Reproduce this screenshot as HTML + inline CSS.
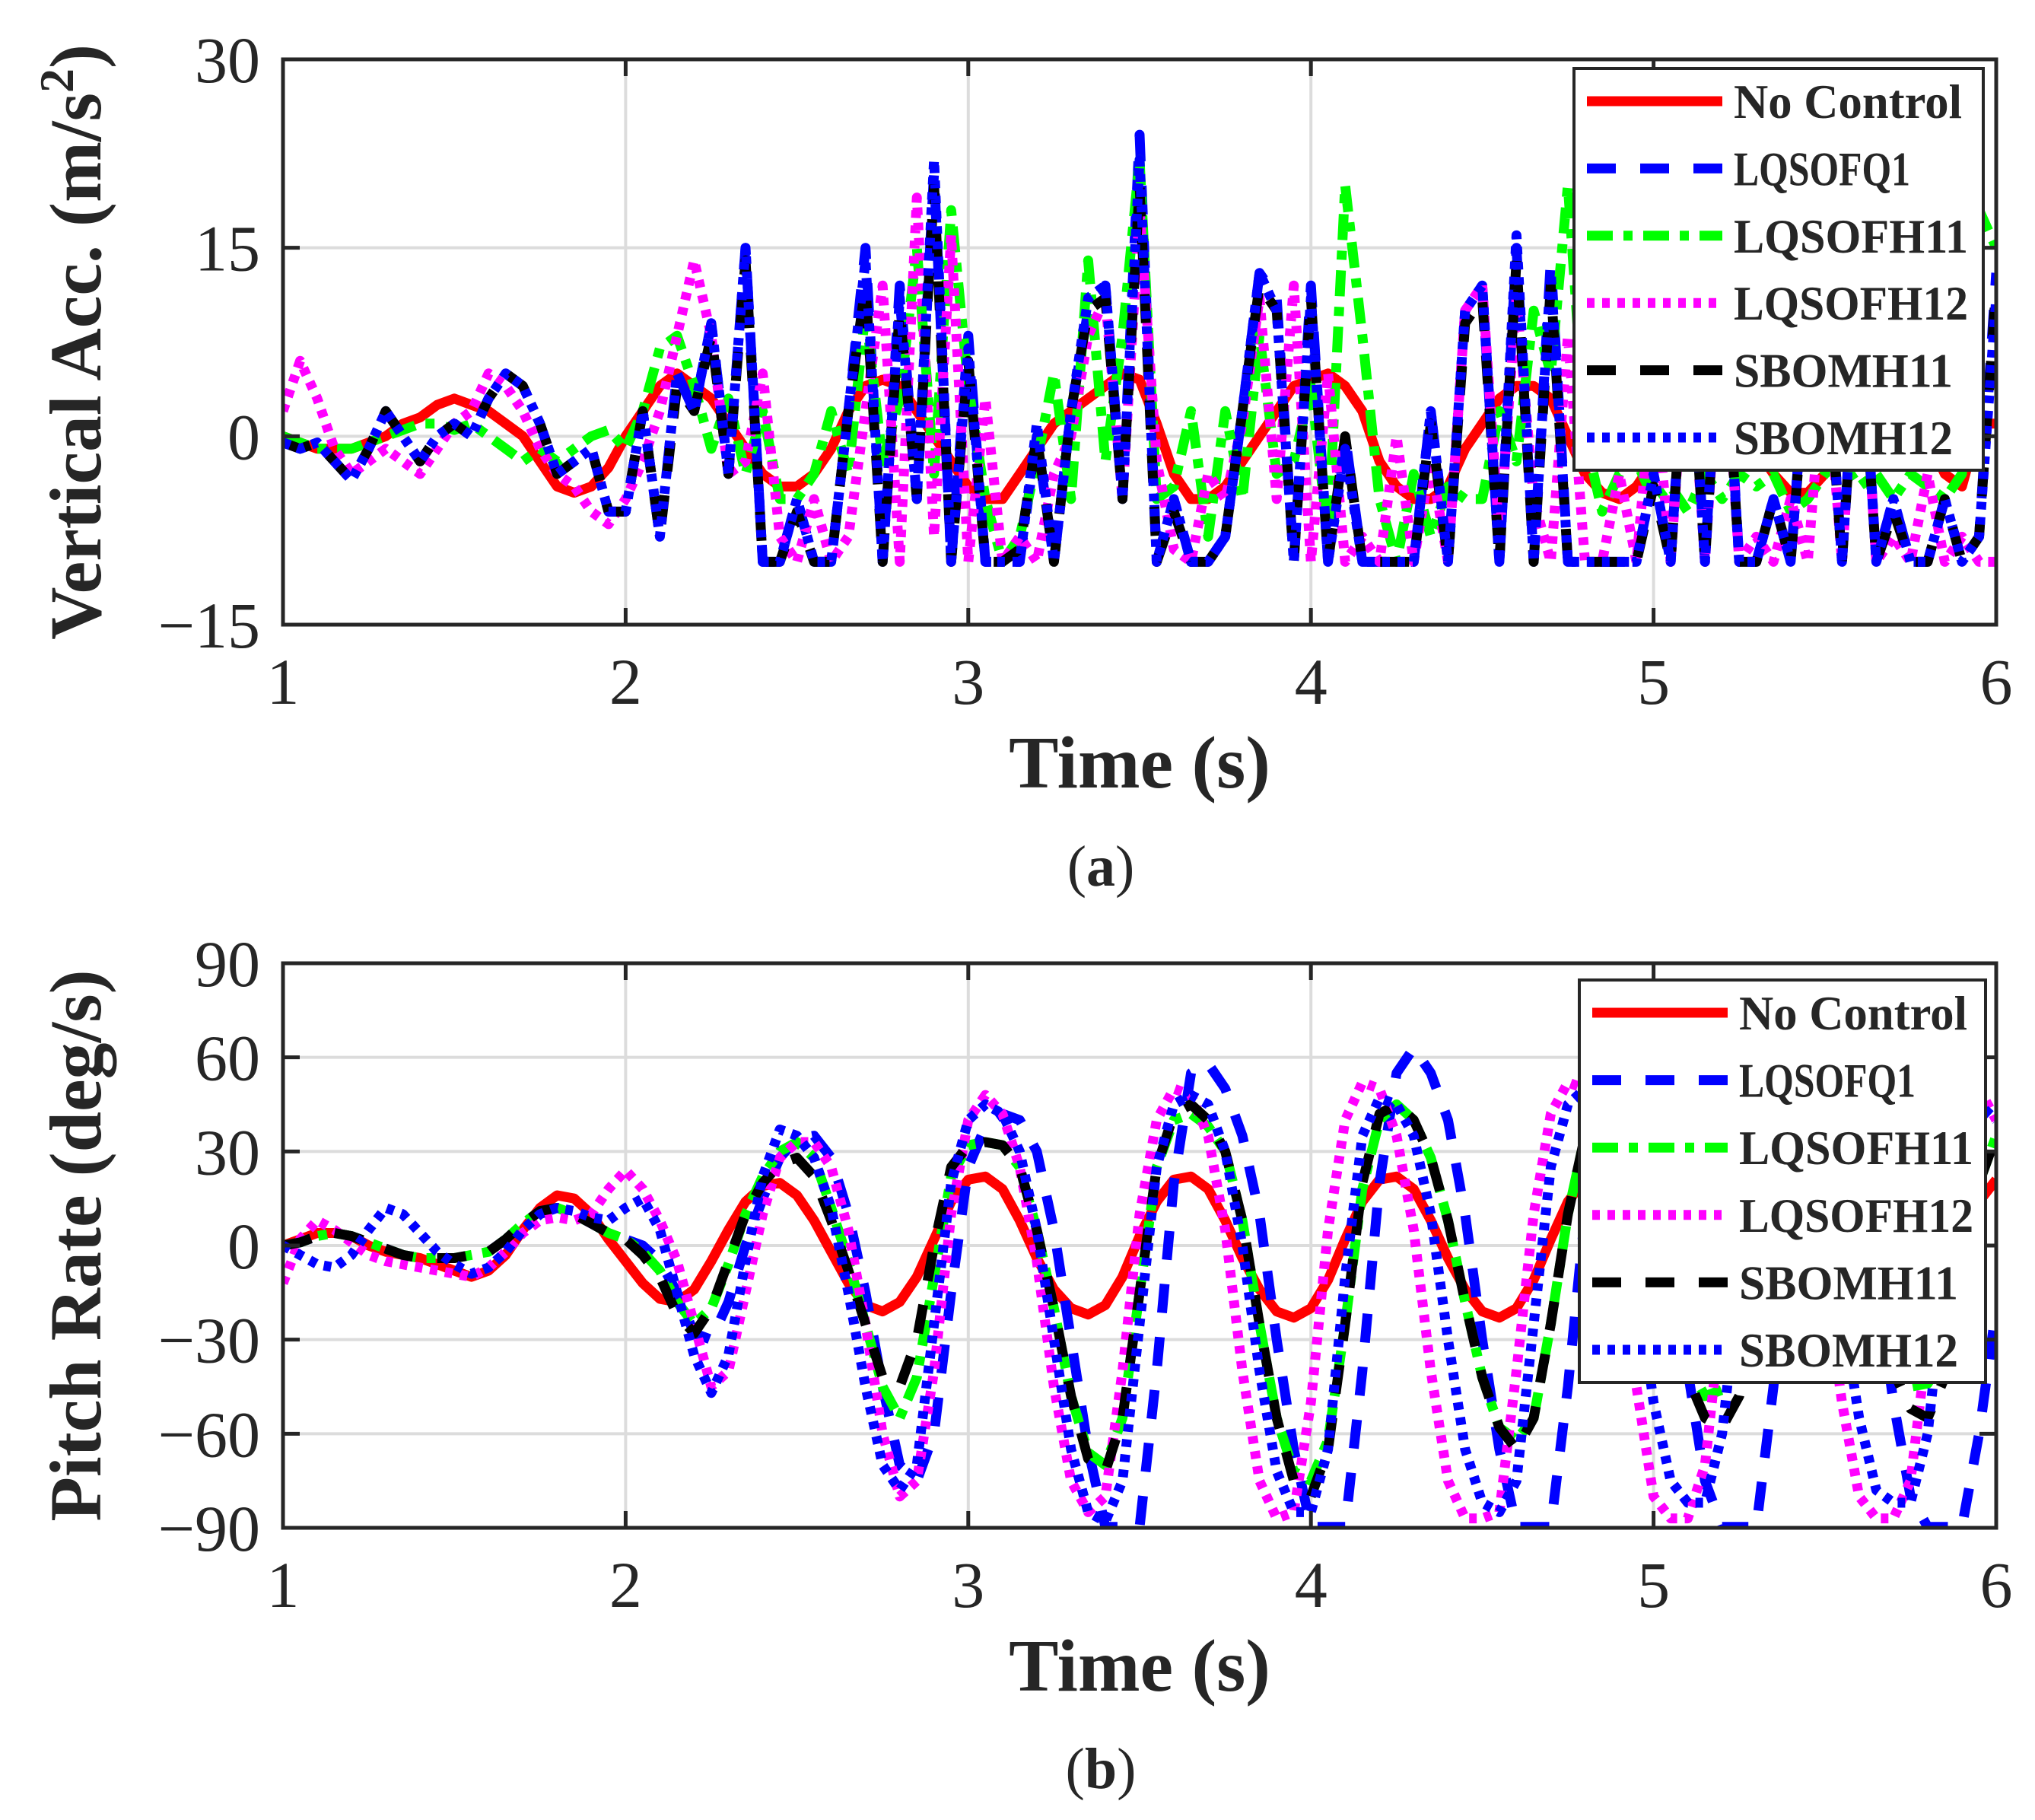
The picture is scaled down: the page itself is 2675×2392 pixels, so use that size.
<!DOCTYPE html>
<html><head><meta charset="utf-8"><style>
html,body{margin:0;padding:0;background:#fff;}
svg{display:block;}
text{font-family:"Liberation Serif",serif;fill:#262626;}
</style></head><body>
<svg id="fig" width="2675" height="2392" viewBox="0 0 2675 2392" xmlns="http://www.w3.org/2000/svg"></svg>
<script>
// ---- shared data ----
const tStart = 1, tStep = 0.05;
const xTicks = [1,2,3,4,5,6];
const seriesNames = ["No Control","LQSOFQ1","LQSOFH11","LQSOFH12","SBOMH11","SBOMH12"];
// ---- panel (a) vertical acceleration ----
const accTicks = [30,15,0,-15];
const accNoControl = [0,-0.5,-1,-1,-1,-0.5,0,1,1.5,2.5,3,2.5,2,1,0,-2,-4,-4.5,-4,-2.5,0,2,4,5,4,3,1,-1,-3,-4,-4,-3,-1,2,4,4.5,4,2,0,-2,-4,-5,-5,-3,-1,1,2,3,4,5,4.5,1,-3,-5,-5,-4,-2,0,2,4,4.5,5,4,2,-2,-4,-5,-5,-4,-1,1,3,4,4,3,0,-3,-4.5,-5,-4,-2,1,3,4,4,2,-1,-3,-4.5,-4.5,-3,0,2,4,4.5,3,0,-3,-4,1,1];
const accLQSOFQ1 = [-0.5,-1,-0.5,-2,-3.5,-1,2,0,-2,0,1,0,3,5,4,1,-3,-2,-1,-6,-6,2,-8,5,2,9,-3,15,-10,-10,-5,-10,-10,2,15,-10,12,-5,21,-10,8,-10,-10,-10,0,-10,2,10,12,-5,24,-10,-5,-10,-10,-8,2,13,11,-10,12,-10,0,-10,-10,-10,-10,2,-10,10,12,-10,15,-10,14,-10,-10,-10,-10,-10,-3,-10,12,-10,14,-10,-10,-5,-10,8,10,-10,12,-10,-5,-10,-10,-5,-10,-8,13];
const accLQSOFH11 = [0,-0.5,-1,-1,-1,-0.5,0,0.5,1,1,0.5,1,0,-1,-2,-1,-2,-1,0,0.5,-1,2,7,8,4,-1,3,-3,2,-5,-5,-3,2,-3,10,-2,3,15,-3,18,4,-5,-10,-8,-2,5,-5,14,-2,8,22,-5,-4,2,-8,2,-5,8,-3,-2,4,-8,20,8,-5,-10,-3,-8,-4,-5,-5,2,-2,10,5,20,0,-6,-3,-2,-5,-4,-6,-3,-5,-3,-4,-3,-6,-5,-3,-2,-4,-3,-5,-3,-4,-5,-3,18,15];
const accLQSOFH12 = [2,6,3,-1,-3,-2,-1,-2,-3,-1,1,2,5,4,2,-1,-3,-4,-6,-7,-5,-2,2,8,14,8,-3,-2,5,-8,-10,-5,-10,-8,2,12,-10,19,-8,16,-10,3,-10,-8,-10,-3,0,8,11,-5,18,-2,-9,-10,-3,-5,1,11,-5,12,-10,5,-10,-8,-10,0,-10,-2,-10,10,12,-8,11,-5,-10,8,-10,-10,-3,-10,5,-10,10,-10,11,-10,-8,-10,-5,-10,7,-10,11,-10,-8,-10,-3,-10,-8,-10,-10];
const accSBOMH11 = [-0.5,-1,-0.5,-2,-3.5,-1,2,0,-2,0,1,0,3,5,4,1,-3,-2,-1,-6,-6,2,-8,4,2,8,-3,14,-10,-10,-6,-10,-10,2,12,-10,10,-5,20,-10,6,-10,-10,-9,0,-10,2,10,11,-5,20,-10,-6,-10,-10,-8,2,12,10,-10,11,-10,0,-10,-10,-10,-10,1,-10,9,11,-10,14,-10,12,-10,-10,-10,-10,-10,-4,-10,11,-10,12,-10,-10,-5,-10,7,9,-10,11,-10,-6,-10,-10,-5,-10,-8,12];
const accSBOMH12 = [-0.5,-1,-0.5,-2,-3.5,-1,2,0,-2,0,1,0,3,5,4,1,-3,-2,-1,-6,-6,2,-8,5,2,9,-3,15,-10,-10,-5,-10,-10,2,14,-10,11,-5,22,-10,7,-10,-10,-10,1,-10,2,11,12,-5,22,-10,-5,-10,-10,-8,2,13,10,-10,11,-10,-1,-10,-10,-10,-10,2,-10,10,12,-10,16,-10,13,-10,-10,-10,-10,-10,-3,-10,12,-10,13,-10,-10,-5,-10,8,10,-10,12,-10,-5,-10,-10,-5,-10,-8,11];
// ---- panel (b) pitch rate ----
const pitchTicks = [90,60,30,0,-30,-60,-90];
const pitchNoControl = [0,2,4,4,3,0,-2,-3,-4,-6,-8,-10,-8,-3,5,12,16,15,10,2,-5,-12,-17,-18,-14,-5,5,14,19,20,16,8,-2,-12,-19,-21,-18,-10,2,14,21,22,18,8,-4,-14,-20,-22,-19,-10,3,14,21,22,18,8,-4,-14,-21,-23,-20,-11,2,14,21,22,18,8,-4,-14,-21,-23,-20,-11,2,14,21,22,18,8,-4,-14,-21,-23,-20,-11,2,14,21,22,18,8,-4,-14,-21,-23,-20,-11,2,14,21];
const pitchLQSOFQ1 = [0,1,3,4,3,1,-1,-3,-4,-4,-4,-3,-2,2,7,11,12,10,7,4,2,0,-5,-15,-28,-30,-18,0,15,28,34,35,28,10,-15,-45,-70,-75,-60,-15,25,38,42,40,30,5,-30,-65,-90,-95,-90,-40,20,55,58,50,35,10,-30,-65,-90,-95,-90,-40,20,55,63,55,40,10,-30,-65,-90,-95,-90,-45,10,45,55,48,30,0,-40,-75,-90,-95,-90,-45,10,45,55,45,25,-10,-50,-80,-90,-95,-95,-60,-20];
const pitchLQSOFH11 = [0,1,3,4,3,1,-1,-3,-4,-4,-4,-3,-2,2,7,11,12,10,7,4,2,-2,-8,-18,-25,-20,-6,10,22,30,33,28,12,-5,-25,-45,-55,-42,-10,22,32,33,32,25,5,-20,-48,-66,-70,-55,-15,25,40,42,38,30,8,-25,-55,-72,-75,-62,-25,18,40,45,40,28,8,-18,-42,-58,-62,-55,-25,10,35,43,40,28,8,-18,-38,-48,-46,-38,-12,20,38,42,35,22,3,-20,-38,-45,-44,-35,-10,20,35];
const pitchLQSOFH12 = [-12,2,8,5,1,-3,-5,-6,-7,-8,-9,-10,-7,-2,4,8,9,8,10,18,24,18,8,-5,-25,-45,-40,-15,10,28,33,33,25,5,-25,-60,-80,-75,-40,10,40,48,42,25,-5,-45,-75,-85,-80,-40,10,40,50,48,35,5,-40,-75,-87,-85,-50,5,40,52,50,35,5,-40,-75,-87,-87,-85,-40,10,42,52,50,35,0,-45,-80,-87,-87,-70,-20,25,48,52,45,25,-10,-50,-80,-87,-87,-75,-30,20,45,50,40];
const pitchSBOMH11 = [0,1,3,4,3,1,-1,-3,-4,-4,-4,-3,-2,2,7,11,12,10,7,4,2,-3,-10,-22,-28,-20,-5,10,20,26,28,22,8,-8,-25,-42,-45,-30,0,25,32,33,32,25,5,-20,-48,-68,-72,-55,-15,25,42,45,40,30,8,-25,-55,-75,-80,-65,-25,20,42,45,40,28,8,-18,-42,-58,-65,-55,-25,10,35,43,40,28,8,-18,-42,-55,-58,-48,-15,20,38,42,35,22,3,-20,-40,-52,-55,-42,-10,20,35];
const pitchSBOMH12 = [0,-3,-6,-7,-3,5,12,10,4,-2,-6,-9,-7,-2,5,10,12,11,9,8,12,15,5,-15,-35,-47,-35,-5,22,37,35,28,12,-15,-45,-70,-78,-70,-25,20,40,45,42,30,5,-30,-65,-85,-88,-75,-25,25,45,48,45,30,0,-40,-72,-85,-85,-65,-10,35,47,45,35,10,-30,-65,-82,-85,-75,-25,25,45,50,45,25,-10,-50,-75,-82,-82,-60,-10,30,45,48,40,20,-20,-55,-78,-82,-82,-60,-10,30,45,40];

const legendTextWidths = {"No Control":300,"LQSOFQ1":232,"LQSOFH11":308,"LQSOFH12":308,"SBOMH11":288,"SBOMH12":288};

const svg = document.getElementById('fig');
const NS = 'http://www.w3.org/2000/svg';
function mk(tag, attrs, parent){ const e=document.createElementNS(NS,tag); for(const k in attrs) e.setAttribute(k,attrs[k]); (parent||svg).appendChild(e); return e; }

const styles = [
  {color:'#ff0000', dash:'', w:13},
  {color:'#0000ff', dash:'38 32', w:13},
  {color:'#00ff00', dash:'34 14 12 14', w:13},
  {color:'#ff00ff', dash:'10 10', w:13},
  {color:'#000000', dash:'38 32', w:13},
  {color:'#0000ff', dash:'10 10', w:13}
];

function panel(cfg){
  const L=372, R=2624, T=cfg.top, B=cfg.bottom;
  const xs = v => L + (v-1)/(6-1)*(R-L);
  const ys = v => B - (v-cfg.ymin)/(cfg.ymax-cfg.ymin)*(B-T);
  const g = mk('g',{});  
  const clipId = cfg.name+'-clip';
  const defs = mk('defs',{},g); const cp = mk('clipPath',{id:clipId},defs); mk('rect',{x:L,y:T,width:R-L,height:B-T},cp);
  xTicks.forEach(v=>{ const l=mk('line',{x1:xs(v),x2:xs(v),y1:T,y2:B,stroke:'#dcdcdc','stroke-width':4},g);
      });
  cfg.ticks.forEach(v=>{ const l=mk('line',{x1:L,x2:R,y1:ys(v),y2:ys(v),stroke:'#dcdcdc','stroke-width':4},g);
      });
  const sg = mk('g',{'clip-path':`url(#${clipId})`},g);
  cfg.series.forEach((arr,i)=>{
    const d = arr.map((v,k)=>(k?'L':'M')+xs(tStart+k*tStep).toFixed(1)+' '+ys(Math.max(cfg.ymin+0.3,v)).toFixed(1)).join(' ');
    const p = mk('path',{d:d,fill:'none',stroke:styles[i].color,'stroke-width':styles[i].w,'stroke-dasharray':styles[i].dash,'stroke-linejoin':'round'},sg);
    
    
  });
  const box = mk('rect',{x:L,y:T,width:R-L,height:B-T,fill:'none',stroke:'#262626','stroke-width':5},g);
   
  xTicks.forEach(v=>{
    mk('line',{x1:xs(v),x2:xs(v),y1:B,y2:B-22,stroke:'#262626','stroke-width':5},g);
    mk('line',{x1:xs(v),x2:xs(v),y1:T,y2:T+22,stroke:'#262626','stroke-width':5},g);
    const t=mk('text',{x:xs(v),y:cfg.xLabelY,'text-anchor':'middle','font-size':86},g); t.textContent=v;
     
  });
  cfg.ticks.forEach(v=>{
    mk('line',{x1:L,x2:L+22,y1:ys(v),y2:ys(v),stroke:'#262626','stroke-width':5},g);
    mk('line',{x1:R,x2:R-22,y1:ys(v),y2:ys(v),stroke:'#262626','stroke-width':5},g);
    const t=mk('text',{x:342,y:ys(v)+30,'text-anchor':'end','font-size':86},g); t.textContent=(v<0?'\u2212'+(-v):v);
     
  });
  const xt=mk('text',{x:1498,y:cfg.xTitleY,'text-anchor':'middle','font-size':98,'font-weight':'bold'},g); xt.textContent='Time (s)';
   
  const cy=(T+B)/2;
  const yt=mk('text',{x:0,y:0,'text-anchor':'middle','font-size':cfg.ytSize,'font-weight':'bold',transform:`translate(132 ${cy}) rotate(-90)`},g);
  yt.innerHTML = cfg.ytitle;
   
  const lg = mk('g',{},g);  
  mk('rect',{x:cfg.leg.x,y:cfg.leg.y,width:cfg.leg.w,height:cfg.leg.h,fill:'#fff',stroke:'#262626','stroke-width':4},lg);
  seriesNames.forEach((n,i)=>{
    const y = cfg.leg.y+43+i*(cfg.leg.h-86)/5;
    const e = mk('g',{},lg);  
    mk('line',{x1:cfg.leg.x+17,x2:cfg.leg.x+195,y1:y,y2:y,stroke:styles[i].color,'stroke-width':styles[i].w,'stroke-dasharray':styles[i].dash},e);
    const t=mk('text',{x:cfg.leg.x+210,y:y+22,'font-size':64,'font-weight':'bold',fill:'#000',textLength:legendTextWidths[n],lengthAdjust:'spacingAndGlyphs'},e); t.textContent=n;
  });
  const cap=mk('text',{x:1447,y:cfg.capY,'text-anchor':'middle','font-size':76},g);
  cap.innerHTML='(<tspan font-weight="bold">'+cfg.cap+'</tspan>)';
   
}

panel({name:'vertical-acc-panel',top:78,bottom:821,ymin:-15,ymax:30,ticks:accTicks,
  series:[accNoControl,accLQSOFQ1,accLQSOFH11,accLQSOFH12,accSBOMH11,accSBOMH12],
  xLabelY:925,xTitleY:1035,ytSize:96,ytitle:'Vertical Acc. (m/s<tspan font-size="64" dy="-36">2</tspan><tspan dy="36">)</tspan>',
  leg:{x:2069,y:90,w:538,h:528},cap:'a',capY:1164});
panel({name:'pitch-rate-panel',top:1266,bottom:2008,ymin:-90,ymax:90,ticks:pitchTicks,
  series:[pitchNoControl,pitchLQSOFQ1,pitchLQSOFH11,pitchLQSOFH12,pitchSBOMH11,pitchSBOMH12],
  xLabelY:2112,xTitleY:2222,ytSize:96,ytitle:'Pitch Rate (deg/s)',
  leg:{x:2076,y:1288,w:534,h:529},cap:'b',capY:2350});
</script>
</body></html>
